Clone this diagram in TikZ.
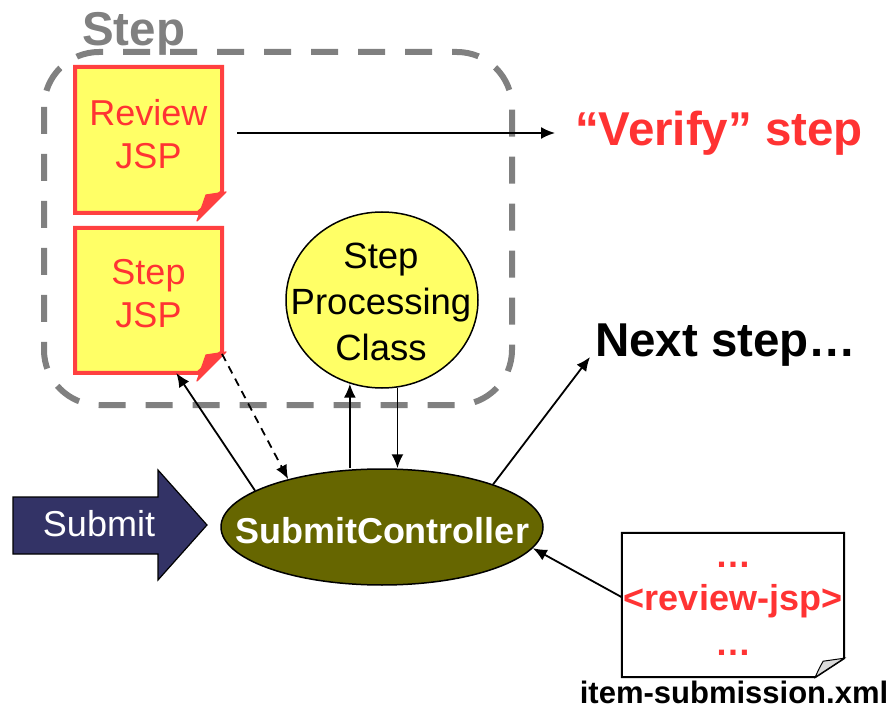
\documentclass[tikz,border=0pt]{standalone}
\usepackage{fontspec}
\setmainfont{Liberation Sans}
\usetikzlibrary{shapes.geometric,arrows.meta,calc}
\definecolor{jspred}{RGB}{255,64,64}
\definecolor{txtred}{RGB}{255,51,51}
\definecolor{noteyellow}{RGB}{255,255,102}
\definecolor{stepgray}{RGB}{128,128,128}
\definecolor{ctrlolive}{RGB}{102,102,0}
\definecolor{submitblue}{RGB}{51,51,102}
\begin{document}
\begin{tikzpicture}[x=1pt,y=1pt,
  arr/.style={line width=1.8pt, -{Latex[length=14pt,width=12pt]}},
  reg/.style={font=\fontsize{36}{43}\selectfont, inner sep=0, align=center},
  bigbold/.style={font=\bfseries\fontsize{47.5}{52}\selectfont, inner sep=0},
  jspbox/.style={minimum width=147pt, inner sep=0, outer sep=0},
  ovalnode/.style={ellipse, draw=black, line width=1.5pt, inner sep=0}]
\useasboundingbox (0,0) rectangle (892,-711);

% dashed step region
\draw[stepgray, line width=6pt, dash pattern=on 27pt off 20pt, rounded corners=55pt]
  (44,-52) rectangle (512,-405);
\node[bigbold, anchor=base west, text=stepgray] (steplbl) at (82,-46) {Step};

% JSP boxes
\node[jspbox, minimum height=146pt] (rj) at (148.5,-140) {};
\node[jspbox, minimum height=145pt] (sj) at (148.5,-300.5) {};
\foreach \n in {rj,sj} {
  \filldraw[jspred, fill=noteyellow, line width=4pt, line join=miter]
    (\n.north west) -- (\n.north east) -- ($(\n.south east)+(0,21)$)
    -- ($(\n.south east)+(-24,0)$) -- (\n.south west) -- cycle;
  \filldraw[jspred, line width=1.2pt, line join=round]
    ($(\n.south east)+(4,21)$) -- ($(\n.south east)+(-25,-8)$)
    -- ($(\n.south east)+(-16,18)$) -- cycle;
}
\node[reg, text=txtred] (rjt) at ($(rj.center)+(0,6)$) {Review\\JSP};
\node[reg, text=txtred] (sjt) at ($(sj.center)+(0,7)$) {Step\\JSP};

% step processing class
\node[ovalnode, fill=noteyellow, minimum width=192pt, minimum height=176pt] (cls) at (382,-300) {};
\node[reg, font=\fontsize{36.5}{46}\selectfont] (clst) at (381,-302) {Step\\Processing\\Class};

% submit controller
\node[ovalnode, fill=ctrlolive, minimum width=322pt, minimum height=116pt] (sc) at (382,-527) {};
\node[inner sep=0, text=white, font=\bfseries\fontsize{36}{43}\selectfont] (sct) at (382,-531) {SubmitController};

% submit arrow
\filldraw[fill=submitblue, draw=black, line width=1.2pt, line join=miter]
  (13,-497) -- (158,-497) -- (158,-470) -- (207,-525) -- (158,-580) -- (158,-554) -- (13,-554) -- cycle;
\node[reg, text=white] (submit) at (99,-524) {Submit};

% labels on the right
\node[bigbold, anchor=west, text=txtred] (verify) at (575,-133) {“Verify” step};
\node[bigbold, anchor=base west] (next) at (595,-357) {Next step…};

% xml document
\node[minimum width=222pt, minimum height=144pt, inner sep=0] (doc) at (733,-605) {};
\filldraw[fill=white, draw=black, line width=2pt, line join=miter]
  (doc.north west) -- (doc.north east) -- ($(doc.south east)+(0,19)$)
  -- ($(doc.south east)+(-29,0)$) -- (doc.south west) -- cycle;
\filldraw[fill=black!14, draw=black, line width=1pt]
  ($(doc.south east)+(0,19)$) -- ($(doc.south east)+(-29,0)$)
  .. controls ($(doc.south east)+(-25,9)$) .. ($(doc.south east)+(-21,16)$) -- cycle;
\node[inner sep=0, anchor=base, text=txtred, font=\bfseries\fontsize{36}{43}\selectfont] (dots1) at (733,-567) {…};
\node[inner sep=0, anchor=base, text=txtred, font=\bfseries\fontsize{36}{43}\selectfont] (rjsp) at (733,-610) {<review-jsp>};
\node[inner sep=0, anchor=base, text=txtred, font=\bfseries\fontsize{36}{43}\selectfont] (dots2) at (733,-655) {…};
\node[inner sep=0, anchor=base, font=\bfseries\fontsize{31}{36}\selectfont] (xmllbl) at (734,-703) {item-submission.xml};

% connectors
\draw[arr, shorten <=15pt, shorten >=20pt] (rj.east |- verify.west) -- (verify.west);
\draw[arr] (sc.164) -- (sj.-69.5);
\draw[arr, dash pattern=on 8pt off 6pt] (sj.-36.6) -- (sc.153);
\draw[arr] (sc.north -| cls.249) -- (cls.249);
\draw[arr] (cls.280) -- (cls.280 |- sc.north);
\draw[arr] (sc.21) -- ($(next.base west)+(-5,0)$);
\draw[arr] (doc.176) -- (sc.-8);
\end{tikzpicture}
\end{document}
